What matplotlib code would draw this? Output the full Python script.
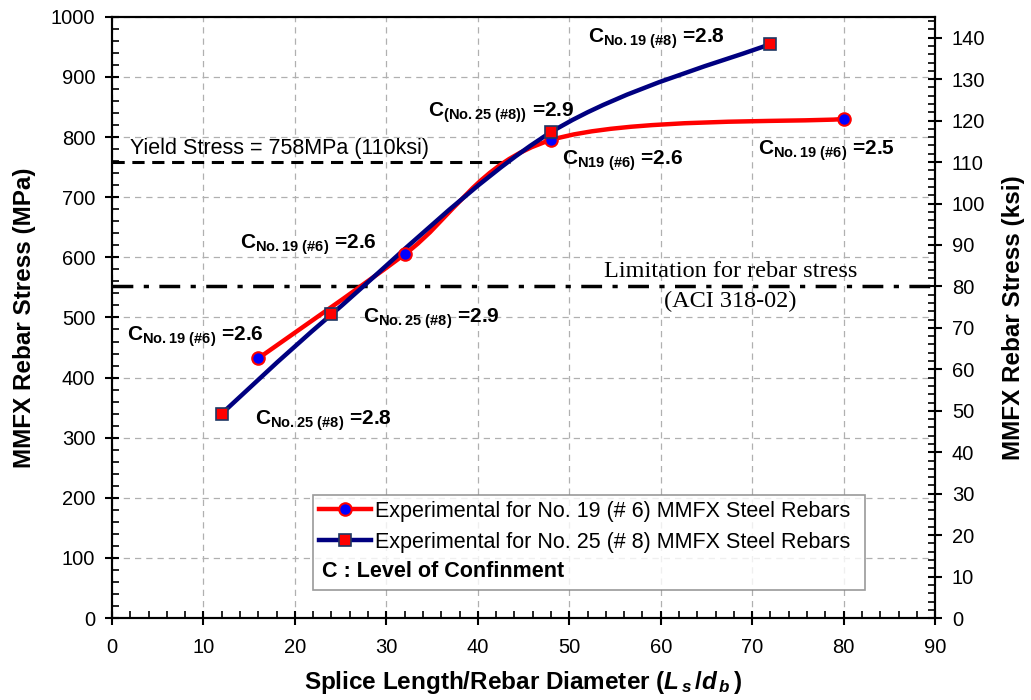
import numpy as np
import matplotlib
matplotlib.use('Agg')
from matplotlib import pyplot as plt
from matplotlib.path import Path
from matplotlib.patches import PathPatch
from matplotlib.lines import Line2D
from matplotlib.ticker import MultipleLocator

plt.rcParams['font.family'] = ['Liberation Sans', 'DejaVu Sans']
plt.rcParams['mathtext.fontset'] = 'custom'
plt.rcParams['mathtext.rm'] = 'Liberation Sans:bold'
plt.rcParams['mathtext.bf'] = 'Liberation Sans:bold'
plt.rcParams['mathtext.it'] = 'Liberation Sans:bold:italic'

# --- data
x_no19 = [16, 32, 48, 80]
y_no19 = [432, 605, 795, 830]
x_no25 = [12, 24, 48, 72]
y_no25 = [340, 505, 808, 955]

yield_mpa = 758
limit_mpa = 552
yield_end = 43.5

label_no19 = 'Experimental for No. 19 (# 6) MMFX Steel Rebars'
label_no25 = 'Experimental for No. 25 (# 8) MMFX Steel Rebars'
label_conf = 'C : Level of Confinment'

# annotation text and baseline anchor (x, y in data units)
notes = [
    (r'C$_{\mathrm{No.19\ (\#8)}}$ =2.8', 52.1, 957),
    (r'C$_{\mathrm{(No.25\ (\#8))}}$ =2.9', 34.6, 834),
    (r'C$_{\mathrm{N19\ (\#6)}}$ =2.6', 49.2, 754),
    (r'C$_{\mathrm{No.19\ (\#6)}}$ =2.5', 70.6, 770),
    (r'C$_{\mathrm{No.19\ (\#6)}}$ =2.6', 14.0, 615),
    (r'C$_{\mathrm{No.25\ (\#8)}}$ =2.9', 27.5, 491),
    (r'C$_{\mathrm{No.19\ (\#6)}}$ =2.6', 1.6, 462),
    (r'C$_{\mathrm{No.25\ (\#8)}}$ =2.8', 15.6, 321),
]


def smooth_path(xs, ys):
    # excel-like smoothed line: bezier segments with catmull-rom control points
    pts = np.column_stack([xs, ys]).astype(float)
    verts = [pts[0]]
    codes = [Path.MOVETO]
    n = len(pts)
    for i in range(n - 1):
        p0 = pts[i - 1] if i > 0 else pts[i]
        p1 = pts[i]
        p2 = pts[i + 1]
        p3 = pts[i + 2] if i + 2 < n else pts[i + 1]
        c1 = p1 + (p2 - p0) / 6.0
        c2 = p2 - (p3 - p1) / 6.0
        verts += [c1, c2, p2]
        codes += [Path.CURVE4] * 3
    return Path(verts, codes)


fig = plt.figure(figsize=(10.31, 7.0), dpi=100)
ax = fig.add_axes([0.1086, 0.117, 0.7984, 0.859])

# smoothed lines
ax.add_patch(PathPatch(smooth_path(x_no19, y_no19), fc='none', ec='red', lw=3.2, zorder=3))
ax.add_patch(PathPatch(smooth_path(x_no25, y_no25), fc='none', ec='#000080', lw=3.2, zorder=4))

# markers
ax.plot(x_no19, y_no19, ls='none', marker='o', ms=9, mfc='blue', mec='red', mew=1.5, zorder=5)
ax.plot(x_no25, y_no25, ls='none', marker='s', ms=8, mfc='red', mec='#1f3864', mew=1.2, zorder=6)

# reference lines
ax.plot([0, yield_end], [yield_mpa, yield_mpa], color='black', lw=2.2, ls=(0, (4, 2.5)), zorder=2)
ax.axhline(limit_mpa, color='black', lw=2.5, ls=(0, (6, 3, 1.5, 3)), zorder=2)

ax.text(2.0, 772, 'Yield Stress = 758MPa (110ksi)', fontsize=15.5, va='baseline', ha='left')
ax.text(67.6, 567, 'Limitation for rebar stress', fontsize=17.5, family=['Liberation Serif'],
        ha='center', va='baseline')
ax.text(67.6, 517, '(ACI 318-02)', fontsize=17.5, family=['Liberation Serif'],
        ha='center', va='baseline')

for txt, tx, ty in notes:
    ax.text(tx, ty, txt, fontsize=15, fontweight='bold', ha='left', va='baseline')

# axes
ax.set_xlim(0, 90)
ax.set_ylim(0, 1000)
ax.xaxis.set_major_locator(MultipleLocator(10))
ax.xaxis.set_minor_locator(MultipleLocator(2))
ax.yaxis.set_major_locator(MultipleLocator(100))
ax.yaxis.set_minor_locator(MultipleLocator(20))
ax.tick_params(which='major', direction='inout', length=10, width=1.5, labelsize=14.5, pad=7)
ax.tick_params(axis='x', which='major', pad=9)
ax.tick_params(which='minor', direction='in', length=5, width=1.2)
ax.grid(True, which='major', color='#b0b0b0', ls=(0, (5, 4)), lw=0.9)
ax.set_axisbelow(True)
for sp in ax.spines.values():
    sp.set_linewidth(1.5)

ax.set_xlabel(r'Splice Length/Rebar Diameter ($L_{\,s}\,/d_{\,b}\,$)', fontsize=17.5,
              fontweight='bold', labelpad=9)
ax.set_ylabel('MMFX Rebar Stress (MPa)', fontsize=17.5, fontweight='bold', labelpad=11)

ax2 = ax.twinx()
ax2.set_ylim(0, 1000 / 6.895)
ax2.yaxis.set_major_locator(MultipleLocator(10))
ax2.yaxis.set_minor_locator(MultipleLocator(2))
ax2.tick_params(which='major', direction='inout', length=10, width=1.5, labelsize=14.5, pad=7)
ax2.tick_params(which='minor', direction='in', length=5, width=1.2)
ax2.set_ylabel('MMFX Rebar Stress (ksi)', fontsize=17.5, fontweight='bold', labelpad=12)
for sp in ax2.spines.values():
    sp.set_linewidth(1.5)

# legend (third row is a plain bold note, drawn separately so it starts at the left edge)
handles = [
    Line2D([], [], color='red', lw=3.2, marker='o', ms=9, mfc='blue', mec='red', mew=1.5),
    Line2D([], [], color='#000080', lw=3.2, marker='s', ms=8, mfc='red', mec='#1f3864', mew=1.2),
    Line2D([], [], color='none'),
]
leg = ax2.legend(handles, [label_no19, label_no25, ' '],
                 loc='lower left', bbox_to_anchor=(0.244, 0.047, 0.671, 0.163), mode='expand',
                 fontsize=15.5, frameon=True, fancybox=False, edgecolor='#808080',
                 handlelength=2.4, handletextpad=0.2, borderaxespad=0, labelspacing=0.45,
                 borderpad=0.3)
leg.get_frame().set_linewidth(1.2)
leg.set_zorder(10)
ax2.text(0.2555, 0.068, label_conf, transform=ax.transAxes, fontsize=15.5, fontweight='bold',
         ha='left', va='baseline', zorder=11)

fig.savefig('out.png', dpi=100)
